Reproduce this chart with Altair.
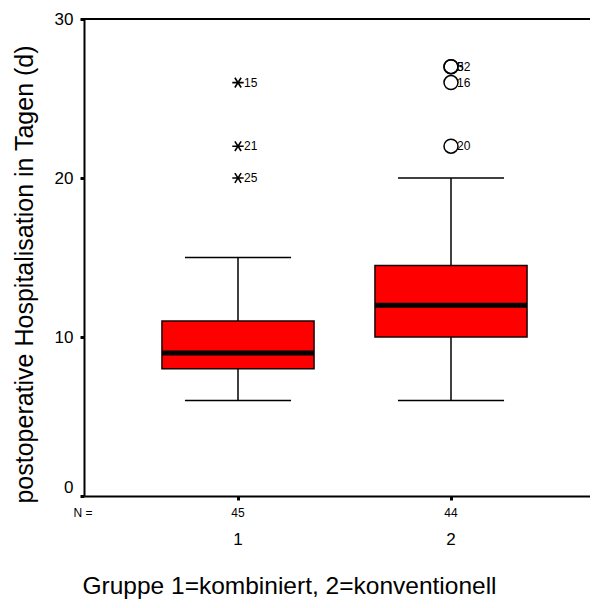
import altair as alt
import pandas as pd

# ---- data ----
groups = [1, 2]
group_labels = ["1", "2"]
n_cases = ["45", "44"]
whisker_low = [6, 6]
q1 = [8, 10]
median = [9, 12]
q3 = [11, 14.5]
whisker_high = [15, 20]

extreme_group = [1, 1, 1]
extreme_value = [26, 22, 20]
extreme_label = ["15", "21", "25"]

outlier_group = [2, 2, 2, 2]
outlier_value = [27, 27, 26, 22]
outlier_label = ["5", "32", "16", "20"]

y_ticks = [0, 10, 20, 30]
x_title = "Gruppe 1=kombiniert, 2=konventionell"
y_title = "postoperative Hospitalisation in Tagen (d)"
n_prefix = ["N ="]

# ---- tables ----
BOX_HALF = 0.357
CAP_HALF = 0.249

box = pd.DataFrame({
    "group": groups, "lo": whisker_low, "q1": q1, "median": median,
    "q3": q3, "hi": whisker_high, "n": n_cases, "glabel": group_labels,
})
box["bx1"] = box["group"] - BOX_HALF
box["bx2"] = box["group"] + BOX_HALF
box["cx1"] = box["group"] - CAP_HALF
box["cx2"] = box["group"] + CAP_HALF

ext = pd.DataFrame({"group": extreme_group, "value": extreme_value, "label": extreme_label})
out = pd.DataFrame({"group": outlier_group, "value": outlier_value, "label": outlier_label})
top = pd.DataFrame({"top": [max(y_ticks)]})
nlab = pd.DataFrame({"t": n_prefix})

FONT = "Liberation Sans"
PLOT_W = 506
X0 = 0.277
X_SCALE = alt.Scale(domain=[X0, X0 + PLOT_W / 213.0], zero=False, nice=False)
Y_SCALE = alt.Scale(domain=[0, 30], zero=False, nice=False)

X_AXIS = alt.Axis(
    values=groups, labels=False, grid=False, tickSize=4, tickWidth=3,
    tickColor="black", domainColor="black", domainWidth=2,
    title=x_title, titleFont=FONT, titleFontSize=24.5, titleFontWeight="normal",
    titleColor="black", titleX=205, titleY=97, titleAlign="center",
    titleBaseline="alphabetic",
)
Y_AXIS = alt.Axis(
    values=y_ticks, grid=False, tickSize=4, tickWidth=3, tickColor="black",
    domainColor="black", domainWidth=2, labelFont=FONT, labelFontSize=17,
    labelColor="black", labelPadding=7,
    labelBaseline=alt.condition("datum.value == 0", alt.value("bottom"), alt.value("middle")),
    title=y_title, titleFont=FONT, titleFontSize=25, titleFontWeight="normal",
    titleColor="black", titleAngle=270, titleX=-60, titleY=255,
    titleAlign="center", titleBaseline="middle",
)


def X(f):
    return alt.X(f, type="quantitative", scale=X_SCALE, axis=X_AXIS)


def Y(f):
    return alt.Y(f, type="quantitative", scale=Y_SCALE, axis=Y_AXIS)


base = alt.Chart(box)

whisk_up = base.mark_rule(color="black", strokeWidth=1.5).encode(
    x=X("group"), y=Y("q3"), y2="hi")
whisk_dn = base.mark_rule(color="black", strokeWidth=1.5).encode(
    x=X("group"), y=Y("lo"), y2="q1")
cap_hi = base.mark_rule(color="black", strokeWidth=1.5).encode(
    x=X("cx1"), x2="cx2", y=Y("hi"))
cap_lo = base.mark_rule(color="black", strokeWidth=1.5).encode(
    x=X("cx1"), x2="cx2", y=Y("lo"))
rects = base.mark_rect(fill="#FF0000", stroke="#1a0000", strokeWidth=1.5).encode(
    x=X("bx1"), x2="bx2", y=Y("q1"), y2="q3")
med = base.mark_rule(color="black", strokeWidth=5, strokeCap="butt").encode(
    x=X("bx1"), x2="bx2", y=Y("median"))

n_text = base.mark_text(font=FONT, fontSize=12, color="black", baseline="middle").encode(
    x=X("group"), y=alt.value(494), text="n")
g_text = base.mark_text(font=FONT, fontSize=17, color="black", baseline="middle").encode(
    x=X("group"), y=alt.value(521), text="glabel")
n_pre = alt.Chart(nlab).mark_text(font=FONT, fontSize=12, color="black", baseline="middle").encode(
    x=alt.value(-1), y=alt.value(494), text="t")

STAR = "M-1,0L1,0M-0.55,-0.85L0.55,0.85M-0.55,0.85L0.55,-0.85"
stars = alt.Chart(ext).mark_point(shape=STAR, size=130, filled=False, color="black",
                                  strokeWidth=1.6, opacity=1).encode(
    x=X("group"), y=Y("value"))
star_lbl = alt.Chart(ext).mark_text(font=FONT, fontSize=12, color="black", align="left",
                                    baseline="middle", dx=6).encode(
    x=X("group"), y=Y("value"), text="label")

circles = alt.Chart(out).mark_point(shape="circle", size=196, filled=False, color="black",
                                    strokeWidth=1.5, opacity=1).encode(
    x=X("group"), y=Y("value"))
circ_lbl = alt.Chart(out).mark_text(font=FONT, fontSize=12, color="black", align="left",
                                    baseline="middle", dx=6).encode(
    x=X("group"), y=Y("value"), text="label")

top_rule = alt.Chart(top).mark_rule(color="black", strokeWidth=2).encode(y=Y("top"))

chart = alt.layer(
    top_rule, whisk_up, whisk_dn, cap_hi, cap_lo, rects, med,
    stars, star_lbl, circles, circ_lbl, n_text, g_text, n_pre,
).properties(
    width=PLOT_W, height=477,
    autosize=alt.AutoSizeParams(type="none"),
    padding={"left": 76, "top": 11, "right": 0, "bottom": 104},
).configure_view(stroke=None).configure(background="white")

chart.save("out.html", embed_options={"renderer": "svg", "actions": False})
